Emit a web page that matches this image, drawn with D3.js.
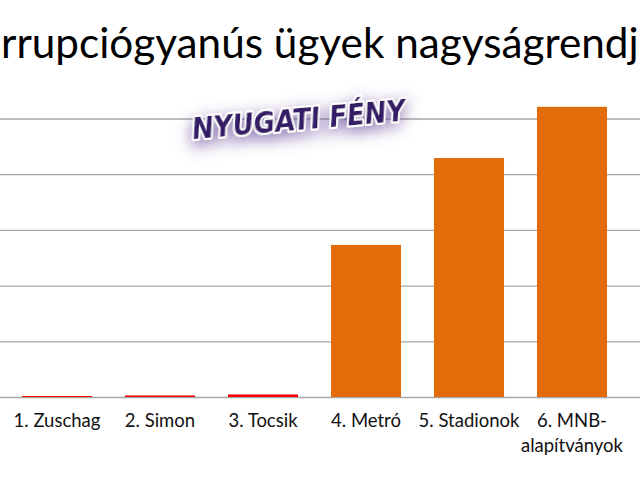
<!DOCTYPE html>
<html><head><meta charset="utf-8">
<script src="https://cdn.jsdelivr.net/npm/d3@7"></script>
<style>html,body{margin:0;padding:0;background:#fff;overflow:hidden}</style>
</head><body>
<svg id="chart" width="640" height="480"></svg>
<script>
const categories = ["1. Zuschag", "2. Simon", "3. Tocsik", "4. Metró", "5. Stadionok", "6. MNB-alapítványok"];
const labelLines = [["1. Zuschag"], ["2. Simon"], ["3. Tocsik"], ["4. Metró"], ["5. Stadionok"], ["6. MNB-", "alapítványok"]];
const values = [0.9, 1.4, 2.3, 136.5, 214.5, 260.5];
const barColors = ["#ff0000", "#ff0000", "#ff0000", "#e36c0a", "#e36c0a", "#e36c0a"];
const gridTicks = [0, 50, 100, 150, 200, 250];
const title = "Korrupciógyanús ügyek nagyságrendje";
const watermark = "NYUGATI FÉNY";

const svg = d3.select("#chart");
const W = 640, H = 480;

const x = d3.scaleBand().domain(categories).range([5.5, 623.5]).paddingInner(0.32).paddingOuter(0.16);
const y = d3.scaleLinear().domain([0, 250]).range([397, 118.5]);

// gridlines via axis
const yAxis = d3.axisLeft(y).tickValues(gridTicks).tickSize(0).tickFormat("");
const g = svg.append("g").call(yAxis);
g.select(".domain").remove();
g.selectAll(".tick line").attr("x1", 0).attr("x2", W).attr("stroke", "#a6a6a6").attr("stroke-width", 1.3);

// bars
svg.append("g").selectAll("rect").data(categories).join("rect")
  .attr("x", d => x(d))
  .attr("width", x.bandwidth())
  .attr("y", (d, i) => y(values[i]))
  .attr("height", (d, i) => y(0) - y(values[i]))
  .attr("fill", (d, i) => barColors[i]);

// x labels
const xl = svg.append("g").attr("font-family", "Lato, 'Open Sans', sans-serif").attr("font-size", 18.5).attr("fill", "#111").attr("text-anchor", "middle");
categories.forEach((c, i) => {
  const cx = x(c) + x.bandwidth() / 2;
  const t = xl.append("text").attr("x", cx).attr("y", 427);
  labelLines[i].forEach((ln, j) => t.append("tspan").attr("x", cx).attr("dy", j === 0 ? 0 : 25).text(ln));
});

// title: fit visible part
const tt = svg.append("text").attr("font-family", "Lato, 'Open Sans', sans-serif").attr("font-size", 34).attr("fill", "#000").attr("y", 58);
tt.text("rrupciógyanús ügyek nagyságrendj");
let wVis = tt.node().getComputedTextLength();
const fs = 34 * 638 / wVis;
tt.attr("font-size", fs).text("Ko");
const wKo = tt.node().getComputedTextLength();
tt.text(title).attr("x", -wKo + 1);

// watermark
const defs = svg.append("defs");
const f = defs.append("filter").attr("id", "glow").attr("x", "-30%").attr("y", "-100%").attr("width", "160%").attr("height", "300%");
f.append("feGaussianBlur").attr("in", "SourceAlpha").attr("stdDeviation", 8).attr("result", "b");
f.append("feOffset").attr("in", "b").attr("dx", 0).attr("dy", 5).attr("result", "o");
f.append("feFlood").attr("flood-color", "#6a4d9c").attr("flood-opacity", 0.8);
f.append("feComposite").attr("in2", "o").attr("operator", "in").attr("result", "s");
const m = f.append("feMerge");
m.append("feMergeNode").attr("in", "s");
m.append("feMergeNode").attr("in", "SourceGraphic");

const wm = svg.append("g").attr("transform", "translate(298,130) rotate(-5) skewX(-8)");
wm.append("text").attr("text-anchor", "middle").attr("font-family", "'DejaVu Sans', sans-serif").attr("font-weight", "bold")
  .attr("font-size", 30).attr("fill", "#341a66").attr("stroke", "#fff").attr("stroke-width", 4).attr("stroke-linejoin", "round")
  .attr("paint-order", "stroke").attr("filter", "url(#glow)").attr("textLength", 214).attr("lengthAdjust", "spacingAndGlyphs")
  .text(watermark);
</script>
</body></html>
